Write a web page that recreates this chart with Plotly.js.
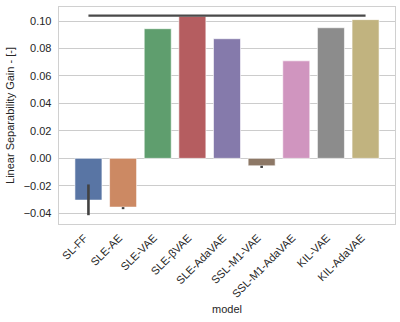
<!DOCTYPE html>
<html>
<head>
<meta charset="utf-8">
<script src="https://cdn.plot.ly/plotly-3.0.1.min.js"></script>
<style>
  body { margin: 0; background: #fff; }
  #chart { width: 400px; height: 322px; }
</style>
</head>
<body>
<div id="chart"></div>
<script>
// values
const models = ['SL-FF', 'SLE-AE', 'SLE-VAE', 'SLE-βVAE', 'SLE-AdaVAE',
                'SSL-M1-VAE', 'SSL-M1-AdaVAE', 'KIL-VAE', 'KIL-AdaVAE'];
const gains = [-0.0304, -0.0355, 0.0944, 0.1034, 0.0871, -0.0054, 0.0710, 0.0951, 0.1010];
const errPlus = [0.0114, 0.0, 0, 0, 0, 0.0, 0, 0, 0];
const errMinus = [0.0110, 0.0015, 0, 0, 0, 0.0016, 0, 0, 0];
const barColors = ['#5975a4', '#cc8963', '#5f9e6e', '#b55d60', '#857aab',
                   '#8d7866', '#d095bf', '#8c8c8c', '#c1b37f'];
// long dark line across the top
const topLineX = ['SL-FF', 'KIL-AdaVAE'];
const topLineY = [0.1039, 0.1039];

const textFont = {family: 'Liberation Sans, Arial, sans-serif', size: 11, color: '#262626'};

const traces = [
    {
        type: 'bar',
        x: models,
        y: gains,
        width: 0.78,
        marker: {color: barColors, line: {color: '#ffffff', width: 0.6}},
        error_y: {
            type: 'data',
            symmetric: false,
            array: errPlus,
            arrayminus: errMinus,
            color: '#424242',
            thickness: 2.6,
            width: 0
        },
        hoverinfo: 'x+y'
    },
    {
        type: 'scatter',
        mode: 'lines',
        x: topLineX,
        y: topLineY,
        line: {color: '#4a4a4a', width: 2.4},
        hoverinfo: 'skip'
    }
];

const layout = {
    width: 400,
    height: 322,
    margin: {l: 59, r: 5, t: 7, b: 98},
    paper_bgcolor: '#ffffff',
    plot_bgcolor: '#ffffff',
    showlegend: false,
    font: textFont,
    xaxis: {
        type: 'category',
        range: [-0.85, 8.85],
        tickangle: -45,
        ticks: '',
        ticklabelshift: -4,
        ticklabelstandoff: 2,
        showgrid: false,
        zeroline: false,
        showline: true,
        mirror: true,
        linecolor: '#d0d0d0',
        linewidth: 1.3,
        tickfont: textFont,
        title: {text: 'model', font: textFont, standoff: 6}
    },
    yaxis: {
        range: [-0.0478, 0.1102],
        dtick: 0.02,
        tick0: 0,
        tickformat: '.2f',
        ticks: '',
        ticklabelstandoff: 4,
        showgrid: true,
        gridcolor: '#cccccc',
        gridwidth: 1,
        zeroline: false,
        showline: true,
        mirror: true,
        linecolor: '#d0d0d0',
        linewidth: 1.3,
        tickfont: textFont,
        title: {text: 'Linear Separability Gain - [-]', font: textFont, standoff: 6}
    }
};

Plotly.newPlot('chart', traces, layout, {displayModeBar: false, staticPlot: true});
</script>
</body>
</html>
